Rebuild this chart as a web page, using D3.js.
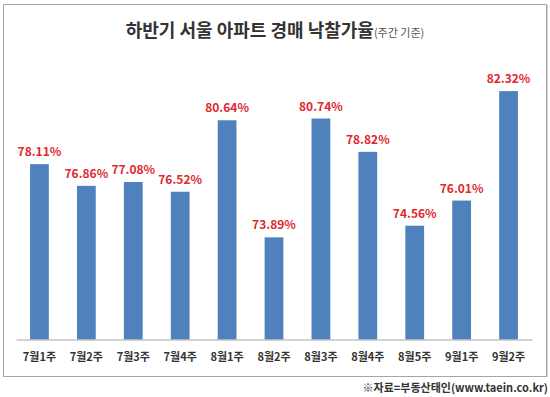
<!DOCTYPE html>
<html>
<head>
<meta charset="utf-8">
<script src="https://cdn.jsdelivr.net/npm/d3@7"></script>
<style>
  body { margin: 0; background: #fff; }
  text { font-family: "Noto Sans CJK KR", "Noto Sans", sans-serif; }
</style>
</head>
<body>
<div id="chart"></div>
<script>
// data
var weeks = ["7월1주", "7월2주", "7월3주", "7월4주", "8월1주", "8월2주", "8월3주", "8월4주", "8월5주", "9월1주", "9월2주"];
var rates = [78.11, 76.86, 77.08, 76.52, 80.64, 73.89, 80.74, 78.82, 74.56, 76.01, 82.32];
var yRange = [68, 84];

function init()
{
  var w = 550;
  var h = 397;

  var svg = d3.select("#chart")
              .append("svg")
              .attr("width", w)
              .attr("height", h);

  // outer frame
  svg.append("rect")
     .attr("x", 3.5).attr("y", 4.5)
     .attr("width", 543).attr("height", 372)
     .attr("fill", "none")
     .attr("stroke", "#a6a6a6");
  svg.append("line")
     .attr("x1", 547.5).attr("x2", 547.5)
     .attr("y1", 5).attr("y2", 377)
     .attr("stroke", "#d0d0d0");

  // title
  var title = svg.append("text")
     .attr("x", w / 2)
     .attr("y", 37)
     .attr("text-anchor", "middle")
     .attr("fill", "#333");
  title.append("tspan")
     .attr("font-size", "18px")
     .attr("font-weight", "bold")
     .text("하반기 서울 아파트 경매 낙찰가율");
  title.append("tspan")
     .attr("font-size", "11px")
     .attr("fill", "#555")
     .text("(주간 기준)");

  var x = d3.scaleBand()
            .domain(weeks)
            .range([16, 532])
            .paddingInner(0.6)
            .paddingOuter(0.3);

  var y = d3.scaleLinear()
            .domain(yRange)
            .range([339.5, 62]);

  svg.selectAll("rect.bar")
      .data(rates)
      .enter()
      .append("rect")
      .attr("class", "bar")
      .attr("x", function(d, i){ return x(weeks[i]); })
      .attr("y", function(d){ return y(d); })
      .attr("width", x.bandwidth())
      .attr("height", function(d){ return y(yRange[0]) - y(d); })
      .attr("fill", "#4f81bd");

  svg.selectAll("text.val")
      .data(rates)
      .enter()
      .append("text")
      .attr("class", "val")
      .text(function(d){ return d.toFixed(2) + "%"; })
      .attr("x", function(d, i){ return x(weeks[i]) + x.bandwidth() / 2; })
      .attr("y", function(d){ return y(d) - 8; })
      .attr("text-anchor", "middle")
      .attr("font-family", "'Liberation Sans', sans-serif")
      .attr("font-size", "12px")
      .attr("font-weight", "bold")
      .attr("fill", "#e0282e");

  // x axis
  var xAxis = d3.axisBottom(x).tickSize(0).tickPadding(14);
  var ax = svg.append("g")
     .attr("transform", "translate(0,339.5)")
     .call(xAxis);
  ax.select(".domain").attr("stroke", "#a6a6a6");
  ax.selectAll("text")
     .attr("font-family", "'Noto Sans CJK KR', sans-serif")
     .attr("font-size", "11px")
     .attr("font-weight", "bold")
     .attr("fill", "#333");

  // source
  svg.append("text")
     .attr("x", 548)
     .attr("y", 392)
     .attr("text-anchor", "end")
     .attr("font-size", "11px")
     .attr("font-weight", "bold")
     .attr("fill", "#333")
     .text("※자료=부동산태인(www.taein.co.kr)");
}

window.onload = init;
</script>
</body>
</html>
